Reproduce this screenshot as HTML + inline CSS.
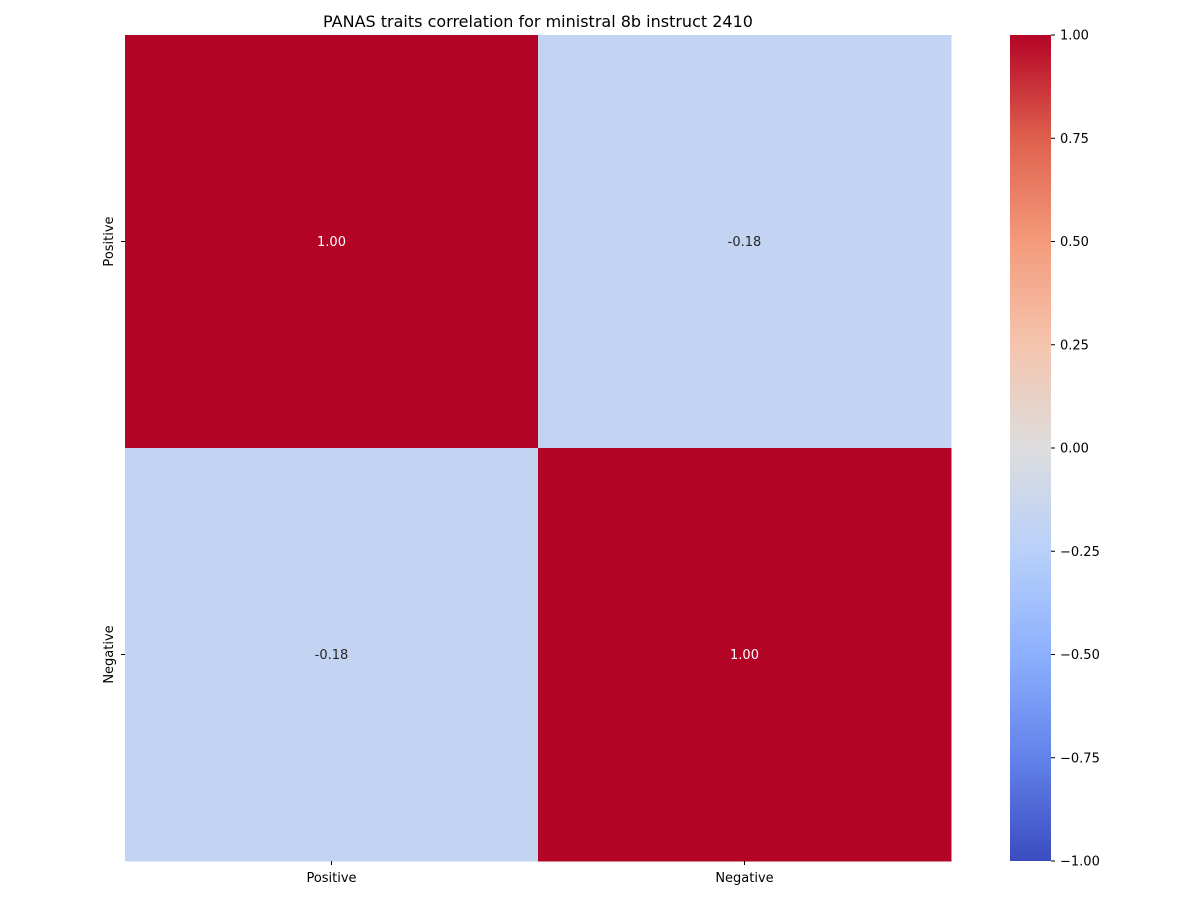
<!DOCTYPE html>
<html><head><meta charset="utf-8"><style>
body{margin:0;background:#fff;}
svg text{font-family:"DejaVu Sans","Liberation Sans",sans-serif;}
</style></head><body>
<svg id="chart" width="1200" height="900" xmlns="http://www.w3.org/2000/svg">
<defs>
<linearGradient id="cw" x1="0" y1="1" x2="0" y2="0">
<stop offset="0" stop-color="rgb(59,76,192)"/>
<stop offset="0.125" stop-color="rgb(98,130,234)"/>
<stop offset="0.25" stop-color="rgb(141,176,254)"/>
<stop offset="0.375" stop-color="rgb(184,208,249)"/>
<stop offset="0.5" stop-color="rgb(221,221,221)"/>
<stop offset="0.625" stop-color="rgb(245,196,173)"/>
<stop offset="0.75" stop-color="rgb(244,154,123)"/>
<stop offset="0.875" stop-color="rgb(222,96,77)"/>
<stop offset="1" stop-color="rgb(180,4,38)"/>
</linearGradient>
</defs>
<text x="538" y="27" font-size="16" text-anchor="middle">PANAS traits correlation for ministral 8b instruct 2410</text>
<g id="cells"></g>
<g id="axes"></g>
<rect x="1010" y="35" width="41" height="826" fill="url(#cw)"/>
<g id="cbticks"></g>
</svg>
<script>
const categories = ["Positive", "Negative"];
const values = [[1.00, -0.18], [-0.18, 1.00]];
const cbTicks = [1.00, 0.75, 0.50, 0.25, 0.00, -0.25, -0.50, -0.75, -1.00];

const NS = "http://www.w3.org/2000/svg";
const X0 = 125, Y0 = 35, W = 826, H = 826;
const n = categories.length, cw = W / n, ch = H / n;
const stops = [[59,76,192],[98,130,234],[141,176,254],[184,208,249],[221,221,221],[245,196,173],[244,154,123],[222,96,77],[180,4,38]];
function color(v){
  let t = Math.max(0, Math.min(1, (v + 1) / 2)) * 8;
  let i = Math.min(7, Math.floor(t)), f = t - i;
  const a = stops[i], b = stops[i+1];
  return "rgb(" + a.map((c,k)=>Math.round(c + (b[k]-c)*f)).join(",") + ")";
}
function cbY(v){ return Y0 + (1 - v) / 2 * H; }
function mk(tag, attrs, parent, text){
  const e = document.createElementNS(NS, tag);
  for (const k in attrs) e.setAttribute(k, attrs[k]);
  if (text !== undefined) e.textContent = text;
  parent.appendChild(e); return e;
}
const cells = document.getElementById("cells");
const axes = document.getElementById("axes");
values.forEach((row, r) => row.forEach((v, c) => {
  const rect = mk("rect", {x: X0 + c*cw, y: Y0 + r*ch, width: cw + 0.5, height: ch + 0.5, fill: color(v)}, cells);
  
  
  const t = mk("text", {x: X0 + (c+0.5)*cw, y: Y0 + (r+0.5)*ch + 4.5, "font-size": 13, "text-anchor": "middle", fill: Math.abs(v) > 0.5 ? "#fff" : "#262626"}, cells, v.toFixed(2));
  
  
}));
categories.forEach((name, i) => {
  const cx = X0 + (i+0.5)*cw, cy = Y0 + (i+0.5)*ch;
  mk("line", {x1: cx, x2: cx, y1: Y0+H, y2: Y0+H+4, stroke: "#000"}, axes);
  const xl = mk("text", {x: cx, y: Y0+H+21, "font-size": 13, "text-anchor": "middle"}, axes, name);
  
  
  mk("line", {x1: X0-4, x2: X0, y1: cy, y2: cy, stroke: "#000"}, axes);
  const yl = mk("text", {x: 0, y: 0, "font-size": 13, "text-anchor": "middle", transform: "translate(" + (X0-12) + "," + cy + ") rotate(-90)"}, axes, name);
  
  
});
const cbt = document.getElementById("cbticks");
cbTicks.forEach(v => {
  const y = cbY(v);
  mk("line", {x1: 1051, x2: 1055, y1: y, y2: y, stroke: "#000"}, cbt);
  const t = mk("text", {x: 1060, y: y + 4.5, "font-size": 13}, cbt, (v < 0 ? "\u2212" + Math.abs(v).toFixed(2) : v.toFixed(2)));
  
  
});
</script>
</body></html>
